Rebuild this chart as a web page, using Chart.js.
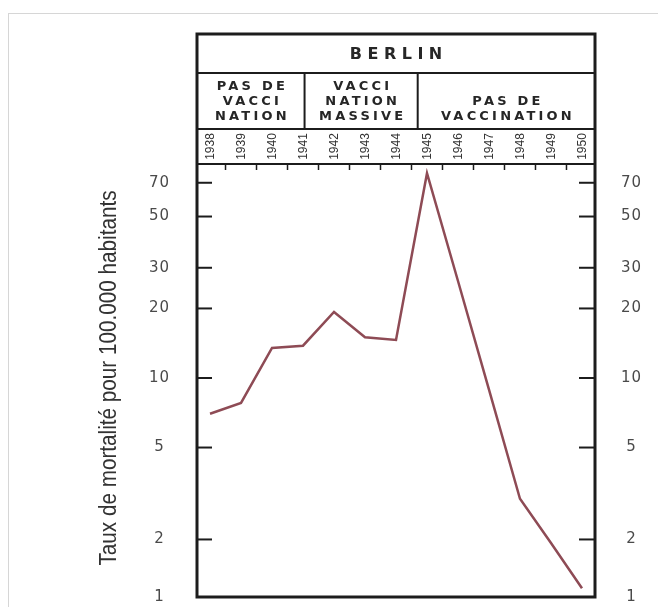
<!DOCTYPE html>
<html><head><meta charset="utf-8">
<script src="https://cdn.jsdelivr.net/npm/chart.js@4/dist/chart.umd.min.js"></script>
<style>html,body{margin:0;padding:0;background:#fff;}canvas{display:block}</style>
</head><body>
<canvas id="c" width="658" height="607"></canvas>
<script>
// ---- data ----
const years = [1938,1939,1940,1941,1942,1943,1944,1945,1946,1947,1948,1949,1950];
const mortality = [7.0,7.8,13.5,13.8,19.3,15.0,14.6,77,26.3,8.9,3.0,1.93,1.23];
const yTickValues = [1,2,5,10,20,30,50,70];
const chartTitle = 'BERLIN';
const periodLabels = [['PAS DE','VACCI','NATION'],['VACCI','NATION','MASSIVE'],['PAS DE','VACCINATION']];
const periodBreaks = [1941.05, 1944.7];
const yAxisTitle = 'Taux de mortalité pour 100.000 habitants';

const X_MIN = 1937.58, X_MAX = 1950.42;
const Y_MIN = 1.127, Y_MAX = 84.4;
const points = years.map((y,i)=>({x:y, y:mortality[i]}));

function spacedText(ctx, txt, x, y, spacing){
  ctx.letterSpacing = spacing + 'px';
  ctx.fillText(txt, x + spacing/2, y);
  ctx.letterSpacing = '0px';
}

const decor = {
  id:'decor',
  afterDatasetsDraw(chart){ chart.ctx.letterSpacing = '1px'; },
  afterDraw(chart){
    const ctx = chart.ctx;
    ctx.letterSpacing = '0px';
    const xs = chart.scales.x, ys = chart.scales.y;
    const L = chart.chartArea.left, R = chart.chartArea.right, B = chart.chartArea.bottom, T = chart.chartArea.top;
    const top = 34, r1 = 73, r2 = 129;
    ctx.save();
    // faint outer frame
    ctx.strokeStyle = '#d6d6d6'; ctx.lineWidth = 1;
    ctx.strokeRect(8.5, 13.5, 700, 700);
    // main box
    ctx.strokeStyle = '#1c1c1c';
    ctx.lineWidth = 3;
    ctx.strokeRect(L, top, R - L, B - top);
    ctx.lineWidth = 2;
    [r1, r2, T].forEach(yy=>{ ctx.beginPath(); ctx.moveTo(L, yy); ctx.lineTo(R, yy); ctx.stroke(); });
    periodBreaks.forEach(v=>{
      const px = xs.getPixelForValue(v);
      ctx.beginPath(); ctx.moveTo(px, r1); ctx.lineTo(px, r2); ctx.stroke();
    });
    // top ticks (half years)
    ctx.lineWidth = 1.5;
    for (let i = 0; i < years.length - 1; i++){
      const px = xs.getPixelForValue(years[i] + 0.5);
      ctx.beginPath(); ctx.moveTo(px, T); ctx.lineTo(px, T + 6); ctx.stroke();
    }
    // y ticks inward
    ctx.lineWidth = 2;
    yTickValues.forEach(v=>{
      if (v <= Y_MIN) return;
      const py = ys.getPixelForValue(v);
      ctx.beginPath(); ctx.moveTo(L, py); ctx.lineTo(L + 15, py); ctx.stroke();
      ctx.beginPath(); ctx.moveTo(R - 16, py); ctx.lineTo(R, py); ctx.stroke();
    });
    // title
    ctx.fillStyle = '#262626';
    ctx.textAlign = 'center'; ctx.textBaseline = 'middle';
    ctx.font = 'bold 16px "DejaVu Sans"';
    spacedText(ctx, chartTitle, (L + R) / 2, (top + r1) / 2 + 1, 5.5);
    // period labels
    ctx.font = 'bold 13px "DejaVu Sans"';
    const bounds = [L, ...periodBreaks.map(v=>xs.getPixelForValue(v)), R];
    periodLabels.forEach((lines, i)=>{
      const cx = (bounds[i] + bounds[i+1]) / 2;
      const n = lines.length;
      lines.forEach((t, j)=>{
        const yy = 117 - (n - 1 - j) * 15;
        spacedText(ctx, t, cx, yy, 3.2);
      });
    });
    // year labels rotated
    ctx.font = '12px "Liberation Sans"';
    ctx.fillStyle = '#333';
    years.forEach(yr=>{
      const px = xs.getPixelForValue(yr);
      ctx.save();
      ctx.translate(px + 1, (r2 + T) / 2);
      ctx.rotate(-Math.PI / 2);
      ctx.fillText(String(yr), 0, 0);
      ctx.restore();
    });
    // y axis title (condensed)
    ctx.font = '23px "Liberation Sans"';
    ctx.fillStyle = '#333';
    const w = ctx.measureText(yAxisTitle).width;
    ctx.save();
    ctx.translate(110, 378);
    ctx.rotate(-Math.PI / 2);
    ctx.scale(375 / w, 1);
    ctx.fillText(yAxisTitle, 0, 0);
    ctx.restore();
    ctx.restore();
  }
};

const yCommon = {
  type:'logarithmic', min:Y_MIN, max:Y_MAX,
  grid:{display:false}, border:{display:false},
  // the reference prints its "1" label at the bottom edge of the plot
  afterBuildTicks(s){ s.ticks = yTickValues.map(v=>({value: Math.max(v, Y_MIN)})); },
};
const tickLabel = (v, i)=>String(yTickValues[i]);

new Chart(document.getElementById('c'), {
  type:'line',
  data:{ datasets:[{ data: points, borderColor:'#8e4b55', borderWidth:2.5, pointRadius:0, tension:0, fill:false, clip:false }]},
  options:{
    responsive:false, animation:false,
    layout:{ padding:{ left:98, right:13, top:164, bottom:10 } },
    plugins:{ legend:{display:false}, tooltip:{enabled:false} },
    scales:{
      x:{ type:'linear', min:X_MIN, max:X_MAX, display:false },
      y:Object.assign({}, yCommon, {
        position:'left',
        afterFit(s){ s.width = 99; s.paddingTop = 0; s.paddingBottom = 0; },
        ticks:{ z:1, crossAlign:'center', padding:20, color:'#4a4a4a', font:{family:'DejaVu Sans', size:15}, callback:tickLabel }
      }),
      y2:Object.assign({}, yCommon, {
        position:'right',
        afterFit(s){ s.width = 50; s.paddingTop = 0; s.paddingBottom = 0; },
        ticks:{ z:1, crossAlign:'center', padding:19, color:'#4a4a4a', font:{family:'DejaVu Sans', size:15}, callback:tickLabel }
      })
    }
  },
  plugins:[decor]
});
</script>
</body></html>
